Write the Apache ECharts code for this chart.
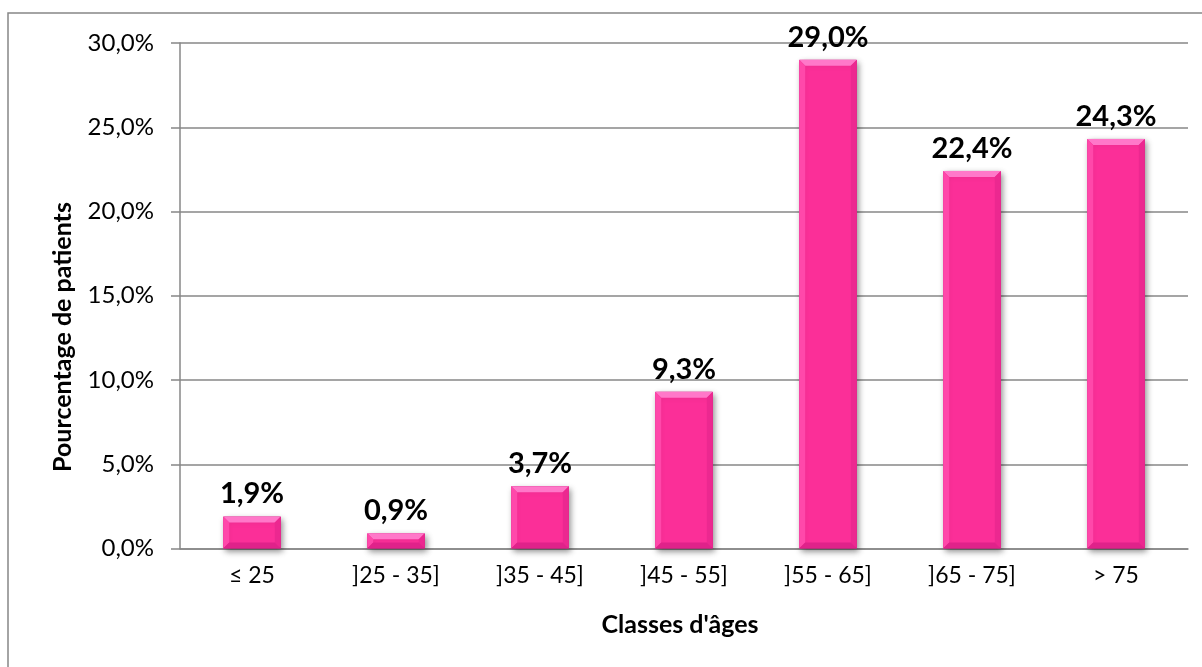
<!DOCTYPE html>
<html><head><meta charset="utf-8">
<script src="https://cdn.jsdelivr.net/npm/echarts@6/dist/echarts.min.js"></script>
<style>html,body{margin:0;padding:0;background:#fff}#c{width:1202px;height:667px}</style>
</head><body><div id="c"></div>
<script>
const categories = ['≤ 25', ']25 - 35]', ']35 - 45]', ']45 - 55]', ']55 - 65]', ']65 - 75]', '> 75'];
const values = [1.9, 0.9, 3.7, 9.3, 29.0, 22.4, 24.3];
const yTicks = [0, 5, 10, 15, 20, 25, 30];
const xTitle = "Classes d'âges";
const yTitle = 'Pourcentage de patients';

const FONT = 'Lato, "Open Sans", sans-serif';
const fmt = v => v.toFixed(1).replace('.', ',') + '%';

const chart = echarts.init(document.getElementById('c'), null, {renderer: 'canvas'});
chart.setOption({
  backgroundColor: '#fff',
  animation: false,
  grid: {left: 180, right: 14, top: 43, bottom: 118.5},
  graphic: [
    {type: 'rect', shape: {x: 8, y: 13, width: 1230, height: 700}, style: {fill: 'none', stroke: '#878787', lineWidth: 1.5}, z: -1},
    {type: 'text', x: 63, y: 337, rotation: Math.PI / 2,
     style: {text: yTitle, font: 'bold 25px ' + FONT, fill: '#000', textAlign: 'center', textVerticalAlign: 'middle'}}
  ],
  xAxis: {
    type: 'category', data: categories,
    name: xTitle, nameLocation: 'middle', nameGap: 64,
    nameTextStyle: {fontFamily: FONT, fontWeight: 'bold', fontSize: 25, color: '#000', padding: [0, 8, 0, 0]},
    axisLine: {lineStyle: {color: '#878787', width: 1.5}},
    axisTick: {show: false},
    axisLabel: {fontFamily: FONT, fontSize: 23, color: '#000', margin: 16}
  },
  yAxis: {
    type: 'value', min: yTicks[0], max: yTicks[yTicks.length - 1], interval: 5,
    axisLine: {show: true, lineStyle: {color: '#878787', width: 1.5}},
    axisTick: {show: true, length: 9, lineStyle: {color: '#878787', width: 1.5}},
    splitLine: {lineStyle: {color: '#878787', width: 1.5}},
    axisLabel: {fontFamily: FONT, fontSize: 24, color: '#000', margin: 26, formatter: fmt}
  },
  series: [
    {
      type: 'bar', data: values, barWidth: '40%',
      itemStyle: {
        color: '#FB2F98', borderColor: '#C9197C', borderWidth: 0.8,
        shadowColor: 'rgba(0,0,0,0.45)', shadowBlur: 6, shadowOffsetX: 2, shadowOffsetY: 3
      },
      label: {show: true, position: 'top', distance: 8, formatter: p => fmt(p.value),
        fontFamily: FONT, fontWeight: 'bold', fontSize: 29, color: '#000'},
      z: 2
    },
    {
      type: 'custom', data: values.map((v, i) => [i, v]), z: 3, silent: true,
      renderItem: function (params, api) {
        const i = api.value(0), v = api.value(1);
        const top = api.coord([i, v]);
        const base = api.coord([i, 0]);
        const w = api.size([1, 0])[0] * 0.4;
        const x0 = top[0] - w / 2, x1 = top[0] + w / 2;
        const y0 = top[1], y1 = base[1];
        const d = Math.min(6, (y1 - y0) / 2, w / 2);
        return {type: 'group', children: [
          {type: 'polygon', shape: {points: [[x0, y0], [x1, y0], [x1 - d, y0 + d], [x0 + d, y0 + d]]}, style: {fill: '#FF78C9'}},
          {type: 'polygon', shape: {points: [[x0, y0], [x0 + d, y0 + d], [x0 + d, y1 - d], [x0, y1]]}, style: {fill: '#FF48AA'}},
          {type: 'polygon', shape: {points: [[x1, y0], [x1, y1], [x1 - d, y1 - d], [x1 - d, y0 + d]]}, style: {fill: '#EC2890'}},
          {type: 'polygon', shape: {points: [[x0, y1], [x0 + d, y1 - d], [x1 - d, y1 - d], [x1, y1]]}, style: {fill: '#E0228A'}}
        ]};
      }
    }
  ]
});
</script></body></html>
